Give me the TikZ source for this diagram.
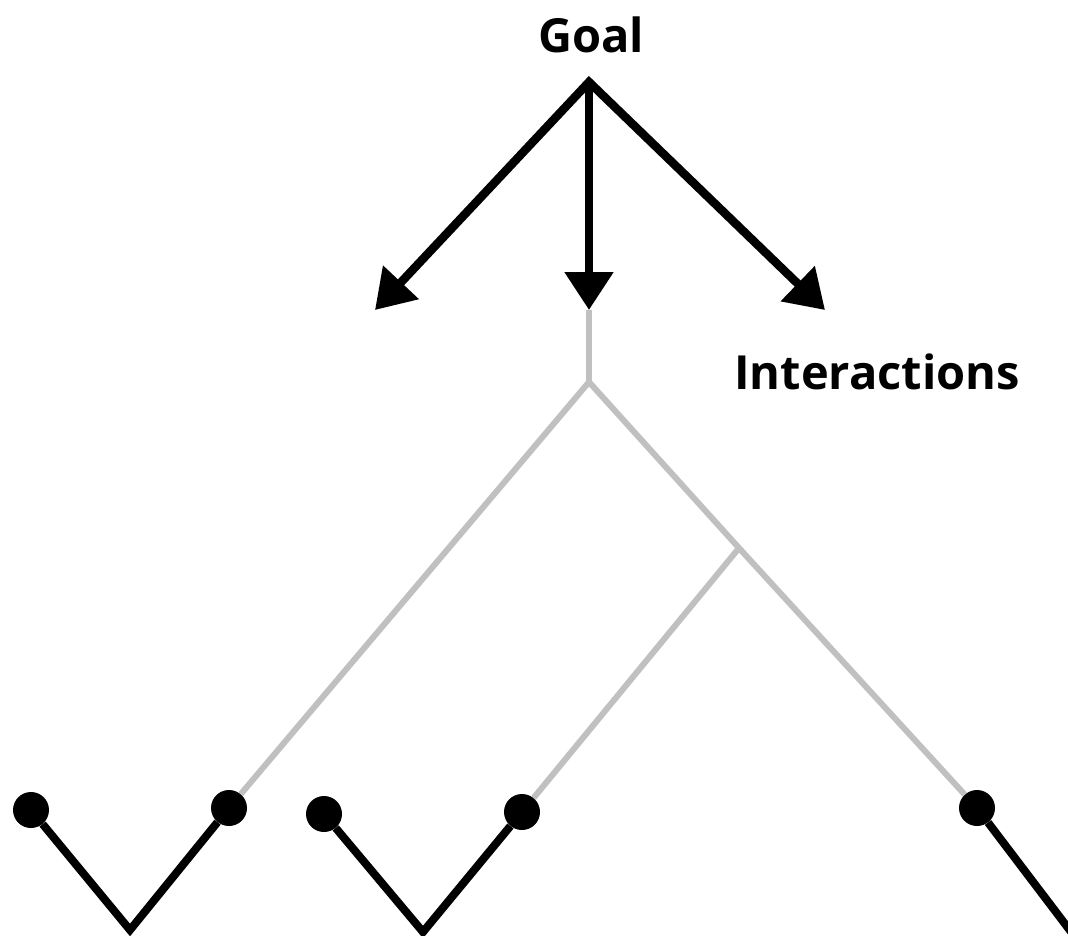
\documentclass[tikz,border=0pt]{standalone}
\usepackage{fontspec}
\setmainfont{Open Sans}
\usetikzlibrary{arrows.meta}
\definecolor{treegray}{RGB}{192,192,192}
\tikzset{
  label/.style={font=\fontsize{47}{52}\selectfont\bfseries, inner sep=0pt, anchor=center},
  pointer/.style={line width=8.5pt, draw=black, line join=miter,
    {Triangle[length=38pt,width=47pt]}-{Triangle[length=38pt,width=47pt]}},
  onepointer/.style={line width=8.5pt, draw=black, -{Triangle[length=38pt,width=47pt]}},
  branch/.style={line width=6pt, draw=treegray},
  leafline/.style={line width=8pt, draw=black, line join=miter},
  leaf/.style={circle, fill=black, inner sep=0pt, minimum size=36pt},
}
\begin{document}
\begin{tikzpicture}[x=1pt, y=-1pt]
  \useasboundingbox (0,0) rectangle (1068,935);
  \clip (0,0) rectangle (1068,935);

  % labels
  \node[label] (goal) at (591,35) {Goal};
  \node[label] (inter) at (877,372) {Interactions};

  % goal fan-out
  \coordinate (apex) at (589,82);
  \coordinate (tipL) at (375,310);
  \coordinate (tipM) at (589,310);
  \coordinate (tipR) at (825,310);
  \draw[pointer] (tipL) -- (apex) -- (tipR);
  \draw[onepointer] (apex) -- (tipM);

  % leaves
  \node[leaf] (d1) at (31,810) {};
  \node[leaf] (d2) at (229,808) {};
  \node[leaf] (d3) at (324,814) {};
  \node[leaf] (d4) at (522,812) {};
  \node[leaf] (d5) at (977,808) {};

  % grey tree
  \coordinate (fork) at (589,382);
  \coordinate (split) at (739,548);
  \draw[branch] (tipM) -- (fork);
  \draw[branch] (fork) -- (d2);
  \draw[branch] (fork) -- (split) -- (d5);
  \draw[branch] (split) -- (d4);

  % black pairs
  \coordinate (v1) at (130,930);
  \coordinate (v2) at (423,932);
  \coordinate (v3) at (1100,970);
  \draw[leafline] (d1) -- (v1) -- (d2);
  \draw[leafline] (d3) -- (v2) -- (d4);
  \draw[leafline] (d5) -- (v3);
\end{tikzpicture}
\end{document}
